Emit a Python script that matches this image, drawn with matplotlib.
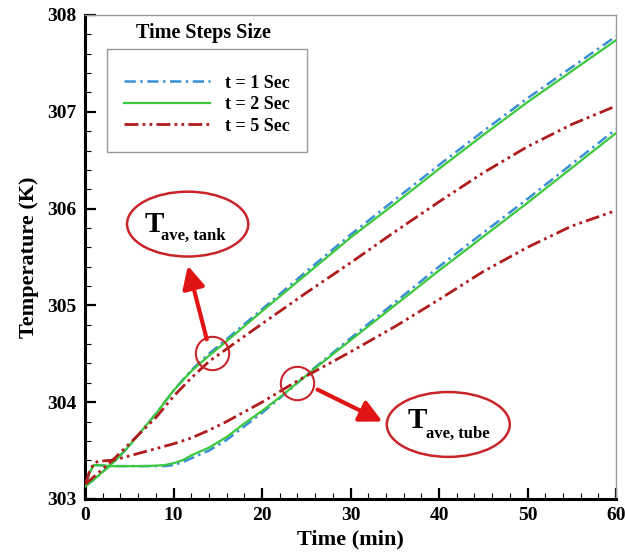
import numpy as np
import matplotlib
matplotlib.use('Agg')
import matplotlib.pyplot as plt
import matplotlib.transforms as mtransforms
from matplotlib.patches import Ellipse
from matplotlib.ticker import MultipleLocator

plt.rcParams['font.family'] = ['Liberation Serif', 'DejaVu Serif']
plt.rcParams['font.weight'] = 'bold'
plt.rcParams['axes.labelweight'] = 'bold'

# время, мин
t_tank = [0, 1, 2, 3, 4, 5, 6, 8, 10, 12, 14, 16, 20, 25, 30, 35, 40, 45, 50, 55, 60]
t_tube = [0, 0.5, 1, 1.5, 3, 5, 7, 9, 10, 11, 12, 14, 16, 18, 20, 22, 24, 26,
          30, 35, 40, 45, 50, 55, 60]
t_tube5 = [0, 0.5, 1, 1.5, 3, 4, 6, 8, 10, 12, 14, 16, 18, 20, 22, 24, 26,
           30, 35, 40, 45, 50, 55, 60]

# средняя температура бака, K
tank_1s = [303.13, 303.20, 303.28, 303.36, 303.45, 303.55, 303.66, 303.88, 304.12,
           304.33, 304.50, 304.65, 304.96, 305.35, 305.73, 306.09, 306.45, 306.80,
           307.14, 307.46, 307.78]
tank_2s = [303.13, 303.20, 303.28, 303.36, 303.45, 303.55, 303.66, 303.88, 304.12,
           304.32, 304.48, 304.63, 304.94, 305.32, 305.70, 306.05, 306.41, 306.76,
           307.10, 307.42, 307.74]
tank_5s = [303.15, 303.23, 303.31, 303.39, 303.48, 303.57, 303.66, 303.84, 304.06,
           304.25, 304.42, 304.55, 304.81, 305.13, 305.44, 305.76, 306.07, 306.37,
           306.64, 306.87, 307.06]

# средняя температура трубы, K
tube_1s = [303.13, 303.27, 303.35, 303.35, 303.34, 303.34, 303.34, 303.34, 303.35,
           303.38, 303.42, 303.50, 303.61, 303.75, 303.89, 304.04, 304.20, 304.36,
           304.66, 305.03, 305.40, 305.75, 306.10, 306.46, 306.82]
tube_2s = [303.13, 303.27, 303.35, 303.35, 303.34, 303.34, 303.34, 303.35, 303.37,
           303.40, 303.45, 303.53, 303.64, 303.78, 303.91, 304.05, 304.20, 304.35,
           304.64, 305.00, 305.36, 305.71, 306.06, 306.42, 306.78]
tube_5s = [303.15, 303.28, 303.37, 303.39, 303.40, 303.42, 303.47, 303.52, 303.57,
           303.63, 303.71, 303.80, 303.90, 304.00, 304.11, 304.22, 304.32, 304.52,
           304.78, 305.06, 305.35, 305.60, 305.82, 305.98]

labels = ['t = 1 Sec', 't = 2 Sec', 't = 5 Sec']

BLUE = '#3b8fd4'
GREEN = '#3cc83c'
DRED = '#b01c1c'
ORED = '#c8242a'
ARED = '#e01414'

dash_dot = (0, (4.5, 1.8, 1, 1.8))
dash_dot_dot = (0, (5, 1.5, 1, 1.5, 1, 1.5))

fig = plt.figure(figsize=(6.25, 5.55), dpi=100)
ax = fig.add_axes([85 / 625, 1 - 499 / 555, 531 / 625, 484 / 555])

ax.plot(t_tank, tank_1s, color=BLUE, lw=1.8, ls=dash_dot, zorder=2, label=labels[0])
ax.plot(t_tube, tube_1s, color=BLUE, lw=1.8, ls=dash_dot, zorder=2)
ax.plot(t_tank, tank_2s, color=GREEN, lw=1.6, zorder=3, label=labels[1])
ax.plot(t_tube, tube_2s, color=GREEN, lw=1.6, zorder=3)
ax.plot(t_tank, tank_5s, color=DRED, lw=2, ls=dash_dot_dot, zorder=4, label=labels[2])
ax.plot(t_tube5, tube_5s, color=DRED, lw=2, ls=dash_dot_dot, zorder=4)

ax.set_xlim(0, 60)
ax.set_ylim(303, 308)
ax.xaxis.set_major_locator(MultipleLocator(10))
ax.xaxis.set_minor_locator(MultipleLocator(2))
ax.yaxis.set_major_locator(MultipleLocator(1))
ax.yaxis.set_minor_locator(MultipleLocator(0.2))
ax.tick_params(which='both', direction='in', top=False, right=False, labelsize=14, pad=6)
ax.tick_params(which='major', length=8, width=1.6)
ax.tick_params(which='minor', length=4.5, width=0.8)

for side in ['left', 'bottom']:
    ax.spines[side].set_linewidth(2.2)
    ax.spines[side].set_color('black')
for side in ['top', 'right']:
    ax.spines[side].set_linewidth(1)
    ax.spines[side].set_color('#999999')

ax.set_xlabel('Time (min)', fontsize=16, labelpad=4)
ax.set_ylabel('Temperature (K)', fontsize=16, labelpad=6)

# последняя подпись по x чуть левее, чтобы не обрезалась
fig.canvas.draw()
last = ax.get_xticklabels()[-1]
last.set_transform(last.get_transform() + mtransforms.ScaledTranslation(-6 / 100, 0, fig.dpi_scale_trans))

leg = ax.legend(loc='upper left', bbox_to_anchor=(0.041, 0.93), fontsize=13,
                title=' ', title_fontsize=3,
                frameon=True, fancybox=False, framealpha=1, edgecolor='#999999',
                borderpad=0.95, labelspacing=0.25, handlelength=4.75, handletextpad=0.85,
                borderaxespad=0)
leg.get_frame().set_linewidth(1)
ax.text(0.2227, 0.9618, 'Time Steps Size', transform=ax.transAxes, fontsize=14.5,
        ha='center', va='center')

# выноски: круги на кривых, стрелки и подписи в овалах
tc_tank, tc_tube = 14.4, 24.0
ax.plot(tc_tank, np.interp(tc_tank, t_tank, tank_2s), 'o', ms=24, mfc='none',
        mec=ORED, mew=1.5, zorder=6)
ax.plot(tc_tube, np.interp(tc_tube, t_tube, tube_2s), 'o', ms=24, mfc='none',
        mec=ORED, mew=1.5, zorder=6)

arrow = dict(arrowstyle='-|>,head_length=0.9,head_width=0.45', mutation_scale=15,
             lw=3, color=ARED, shrinkA=0, shrinkB=0)
ax.annotate('', xy=(11.62, 305.41), xytext=(13.76, 304.65), arrowprops=arrow, zorder=7)
ax.annotate('', xy=(33.61, 303.80), xytext=(26.28, 304.13), arrowprops=arrow, zorder=7)

ax.add_patch(Ellipse((11.6, 305.84), 13.7, 0.67, fill=False, ec=ORED, lw=1.8, zorder=6))
ax.add_patch(Ellipse((41.05, 303.77), 13.9, 0.67, fill=False, ec=ORED, lw=1.8, zorder=6))

ax.text(6.77, 305.758, 'T', fontsize=21, ha='left', va='baseline')
ax.text(8.57, 305.676, 'ave, tank', fontsize=12, ha='left', va='baseline')
ax.text(36.43, 303.733, 'T', fontsize=21, ha='left', va='baseline')
ax.text(38.57, 303.63, 'ave, tube', fontsize=12, ha='left', va='baseline')

fig.savefig('out.png', dpi=100)
